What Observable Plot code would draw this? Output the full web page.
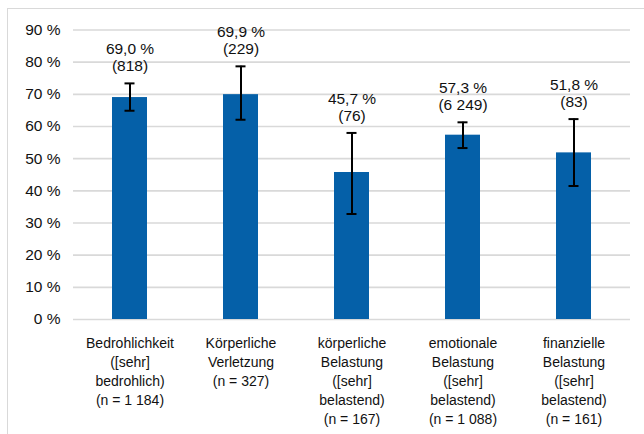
<!DOCTYPE html>
<html>
<head>
<meta charset="utf-8">
<script src="https://cdn.jsdelivr.net/npm/d3@7"></script>
<script src="https://cdn.jsdelivr.net/npm/@observablehq/plot@0.6"></script>
<style>
  html, body { margin: 0; padding: 0; background: #fff; }
  #wrap { position: relative; width: 644px; height: 434px; overflow: hidden; }
  #frame { position: absolute; left: 7px; top: 8px; width: 700px; height: 500px;
           border-left: 1.5px solid #d9d9d9; border-top: 1.5px solid #d9d9d9; }
  #chart { position: absolute; left: 0; top: 0; }
</style>
</head>
<body>
<div id="wrap"><div id="frame"></div><div id="chart"></div></div>
<script>
const categories = [
  "Bedrohlichkeit\n([sehr]\nbedrohlich)\n(n = 1 184)",
  "Körperliche\nVerletzung\n(n = 327)",
  "körperliche\nBelastung\n([sehr]\nbelastend)\n(n = 167)",
  "emotionale\nBelastung\n([sehr]\nbelastend)\n(n = 1 088)",
  "finanzielle\nBelastung\n([sehr]\nbelastend)\n(n = 161)"
];
const values = [69.0, 69.9, 45.7, 57.3, 51.8];
const lower = [64.9, 62.1, 32.8, 53.3, 41.5];
const upper = [73.4, 78.7, 58.0, 61.3, 62.3];
const counts = ["818", "229", "76", "6 249", "83"];
const yTicks = [0, 10, 20, 30, 40, 50, 60, 70, 80, 90];

const fmt = v => v.toFixed(1).replace(".", ",") + " %";
const data = categories.map((c, i) => ({
  cat: c, value: values[i], lo: lower[i], hi: upper[i],
  label: fmt(values[i]) + "\n(" + counts[i] + ")"
}));

const chart = Plot.plot({
  width: 644,
  height: 434,
  marginLeft: 73,
  marginRight: 14,
  marginTop: 29.5,
  marginBottom: 115,
  style: { fontFamily: "'Liberation Sans', Arial, sans-serif", background: "transparent", color: "#111" },
  x: { domain: categories, padding: 0, label: null },
  y: { domain: [0, 90], label: null },
  marks: [
    Plot.ruleY(yTicks, { stroke: "#d9d9d9", strokeWidth: 1.6 }),
    Plot.barY(data, { x: "cat", y: "value", fill: "#0560a8", insetLeft: 38, insetRight: 38 }),
    Plot.ruleX(data, { x: "cat", y1: "lo", y2: "hi", stroke: "#000", strokeWidth: 2 }),
    Plot.tickY(data, { x: "cat", y: "lo", stroke: "#000", strokeWidth: 2, insetLeft: 50.5, insetRight: 50.5 }),
    Plot.tickY(data, { x: "cat", y: "hi", stroke: "#000", strokeWidth: 2, insetLeft: 50.5, insetRight: 50.5 }),
    Plot.text(data, { x: "cat", y: "hi", text: "label", lineAnchor: "bottom", dy: -12,
      fontSize: 15.5, lineHeight: 1.12, fill: "#111" }),
    Plot.axisY({ ticks: yTicks, tickSize: 0, tickPadding: 13, tickFormat: d => d + " %",
      fontSize: 15.5, label: null }),
    Plot.axisX({ tickSize: 0, tickPadding: 15, fontSize: 14, lineHeight: 1.36, label: null })
  ]
});
document.getElementById("chart").appendChild(chart);
</script>
</body>
</html>
